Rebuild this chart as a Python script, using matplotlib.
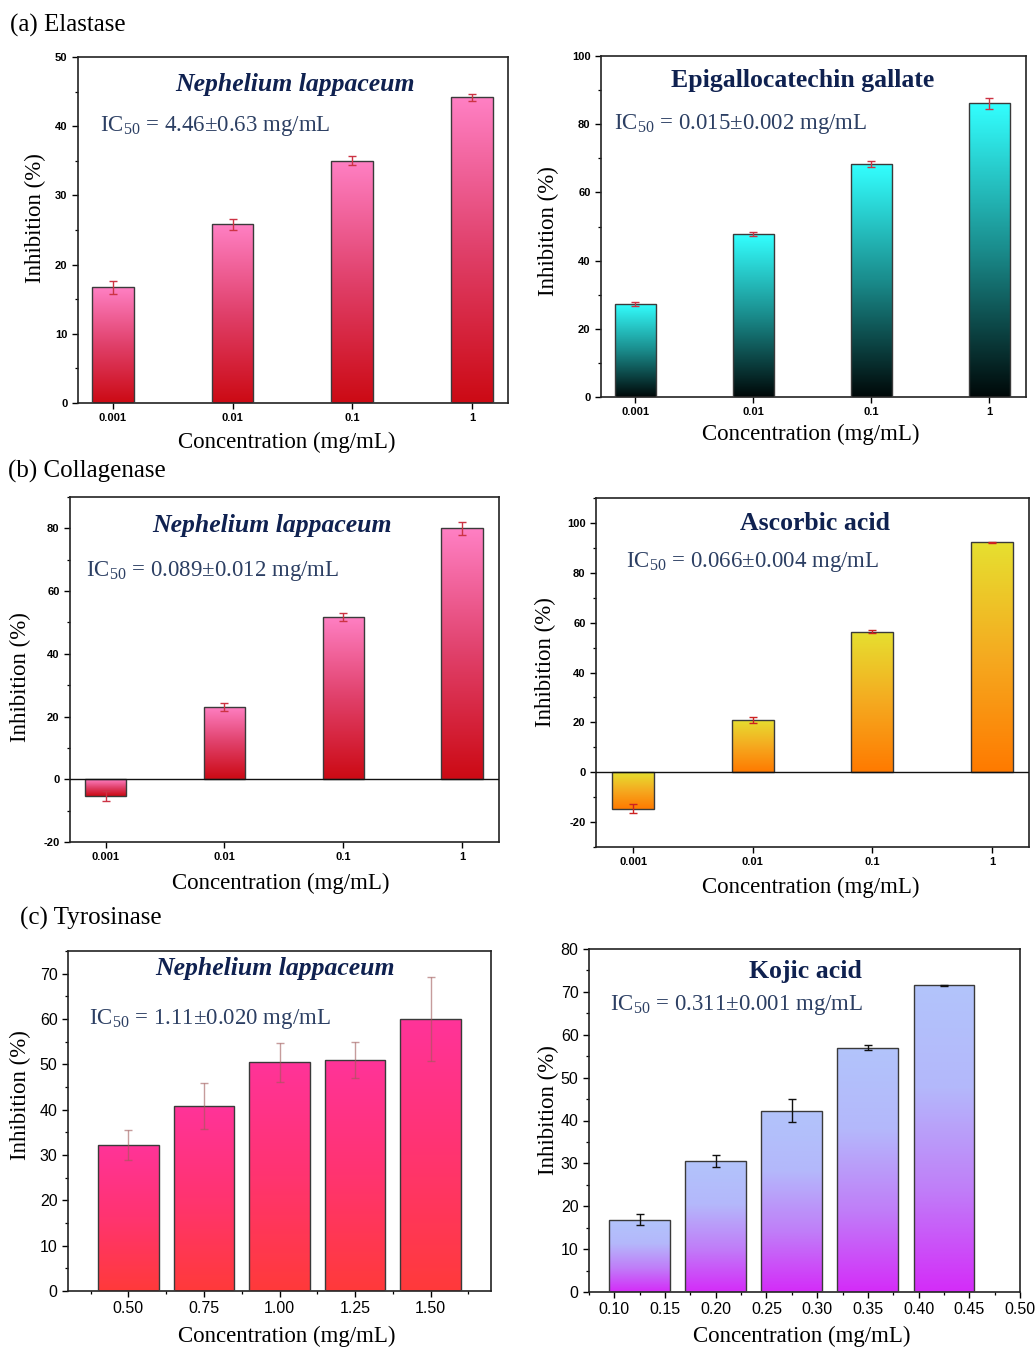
import numpy as np
import matplotlib
matplotlib.use("Agg")
import matplotlib.pyplot as plt
from matplotlib.colors import LinearSegmentedColormap
from matplotlib.ticker import MultipleLocator, FormatStrFormatter

plt.rcParams['font.family'] = ['Liberation Serif', 'DejaVu Serif']
plt.rcParams['mathtext.fontset'] = 'custom'
plt.rcParams['mathtext.rm'] = 'Liberation Serif'
plt.rcParams['axes.unicode_minus'] = False

# ---- data ----
log_conc = ['0.001', '0.01', '0.1', '1']

elastase_nl = [16.7, 25.8, 35.0, 44.2]
elastase_nl_err = [1.0, 0.75, 0.65, 0.5]
elastase_egcg = [27.3, 47.8, 68.3, 86.2]
elastase_egcg_err = [0.5, 0.6, 0.9, 1.6]

collagenase_nl = [-5.2, 23.0, 51.8, 80.0]
collagenase_nl_err = [1.6, 1.3, 1.3, 2.0]
collagenase_aa = [-14.7, 21.0, 56.4, 92.2]
collagenase_aa_err = [1.8, 1.2, 0.5, 0.3]

tyr_nl_conc = [0.50, 0.75, 1.00, 1.25, 1.50]
tyr_nl = [32.3, 40.8, 50.5, 51.0, 60.0]
tyr_nl_err = [3.3, 5.1, 4.3, 4.0, 9.3]
tyr_ka_conc = [0.125, 0.200, 0.275, 0.350, 0.425]
tyr_ka = [16.9, 30.6, 42.3, 57.0, 71.5]
tyr_ka_err = [1.3, 1.4, 2.6, 0.6, 0.2]

W, H = 1035, 1348
fig = plt.figure(figsize=(W / 100, H / 100), dpi=100)

TITLE_C = '#0f2150'
IC_C = '#2c3f63'
LABEL_FS = 16.5


def make_ax(l, t, r, b):
    return fig.add_axes([l / W, 1 - b / H, (r - l) / W, (b - t) / H])


def grad_bars(ax, x, vals, width, colors, err, ecolor, ealpha=1.0, edge='#3a3a3a'):
    cmap = LinearSegmentedColormap.from_list('g', colors)
    bars = ax.bar(x, vals, width, facecolor='none', edgecolor=edge, lw=1.0, zorder=3)
    grad = np.linspace(0, 1, 256).reshape(-1, 1)
    for p in bars.patches:
        x0, y0 = p.get_x(), p.get_y()
        w, h = p.get_width(), p.get_height()
        lo, hi = min(y0, y0 + h), max(y0, y0 + h)
        im = ax.imshow(grad, cmap=cmap, origin='lower', aspect='auto',
                       extent=[x0, x0 + w, lo, hi], zorder=2)
        im.set_clip_path(p)
    ax.errorbar(x, vals, yerr=err, fmt='none', ecolor=ecolor, alpha=ealpha,
                elinewidth=1.0, capsize=3, capthick=1.0, zorder=4)
    return bars


def style(ax, small_bold=True):
    for s in ax.spines.values():
        s.set_linewidth(1.2)
        s.set_color('#222222')
    if small_bold:
        ax.tick_params(axis='both', which='major', direction='out', length=4,
                       width=1.0, labelsize=8)
        for lab in ax.get_xticklabels() + ax.get_yticklabels():
            lab.set_fontfamily('Liberation Sans')
            lab.set_fontweight('bold')
    else:
        ax.tick_params(axis='both', which='major', direction='out', length=4,
                       width=1.0, labelsize=11.5)
        for lab in ax.get_xticklabels() + ax.get_yticklabels():
            lab.set_fontfamily('Liberation Sans')
    ax.tick_params(axis='both', which='minor', direction='out', length=2.5, width=0.9)


def labels(ax, box, ylab_xy, xlab_xy, title, title_xy, ic, ic_xy):
    l, t, r, b = box
    ax.set_ylabel('Inhibition (%)', fontsize=LABEL_FS)
    ax.set_xlabel('Concentration (mg/mL)', fontsize=LABEL_FS)
    ax.yaxis.set_label_coords((ylab_xy[0] - l) / (r - l), (b - ylab_xy[1]) / (b - t))
    ax.xaxis.set_label_coords((xlab_xy[0] - l) / (r - l), (b - xlab_xy[1]) / (b - t))
    ax.yaxis.label.set_va('center')
    ax.xaxis.label.set_va('center')
    ax.text(title_xy[0], title_xy[1], title[0], transform=ax.transAxes,
            ha='center', va='center', fontsize=18.5, fontweight='bold',
            fontstyle=title[1], color=TITLE_C)
    ax.text(ic_xy[0], ic_xy[1], ic, transform=ax.transAxes, ha='left',
            va='center', fontsize=16.5, color=IC_C)


pink_red = ['#cc0a14', '#e0406a', '#ff80c4']
pos = np.arange(len(log_conc))

# (a) Elastase -- N. lappaceum
box = (78, 57, 508, 403)
ax = make_ax(*box)
grad_bars(ax, pos, elastase_nl, 0.35, pink_red, elastase_nl_err, '#cc3344')
ax.set_xlim(-0.29, 3.30)
ax.set_ylim(0, 50)
ax.set_xticks(pos, log_conc)
ax.yaxis.set_major_locator(MultipleLocator(10))
ax.yaxis.set_minor_locator(MultipleLocator(5))
style(ax)
labels(ax, box, (35, 218), (287, 442), ('Nephelium lappaceum', 'italic'), (0.505, 0.92),
       'IC$_{50}$ = 4.46±0.63 mg/mL', (0.05, 0.80))

# (a) Elastase -- EGCG
box = (601, 56, 1026, 397)
ax = make_ax(*box)
grad_bars(ax, pos, elastase_egcg, 0.35, ['#000808', '#1a8c8c', '#33ffff'],
          elastase_egcg_err, '#cc3344')
ax.set_xlim(-0.29, 3.31)
ax.set_ylim(0, 100)
ax.set_xticks(pos, log_conc)
ax.yaxis.set_major_locator(MultipleLocator(20))
ax.yaxis.set_minor_locator(MultipleLocator(10))
style(ax)
labels(ax, box, (548, 231), (811, 434), ('Epigallocatechin gallate', 'normal'), (0.475, 0.927),
       'IC$_{50}$ = 0.015±0.002 mg/mL', (0.03, 0.80))

# (b) Collagenase -- N. lappaceum
box = (70, 497, 499, 842)
ax = make_ax(*box)
grad_bars(ax, pos, collagenase_nl, 0.35, pink_red, collagenase_nl_err, '#cc3344')
ax.axhline(0, color='#111111', lw=1.0, zorder=3)
ax.set_xlim(-0.30, 3.31)
ax.set_ylim(-20, 90)
ax.set_xticks(pos, log_conc)
ax.yaxis.set_major_locator(MultipleLocator(20))
ax.yaxis.set_minor_locator(MultipleLocator(10))
style(ax)
labels(ax, box, (20, 677), (281, 883), ('Nephelium lappaceum', 'italic'), (0.47, 0.916),
       'IC$_{50}$ = 0.089±0.012 mg/mL', (0.037, 0.785))

# (b) Collagenase -- ascorbic acid
box = (596, 498, 1029, 847)
ax = make_ax(*box)
grad_bars(ax, pos, collagenase_aa, 0.35, ['#ff7a00', '#f5aa20', '#e6e030'],
          collagenase_aa_err, '#cc2222')
ax.axhline(0, color='#111111', lw=1.0, zorder=3)
ax.set_xlim(-0.31, 3.31)
ax.set_ylim(-30, 110)
ax.set_xticks(pos, log_conc)
ax.set_yticks([-20, 0, 20, 40, 60, 80, 100])
ax.yaxis.set_minor_locator(MultipleLocator(10))
style(ax)
labels(ax, box, (545, 662), (811, 887), ('Ascorbic acid', 'normal'), (0.506, 0.928),
       'IC$_{50}$ = 0.066±0.004 mg/mL', (0.07, 0.817))

# (c) Tyrosinase -- N. lappaceum
box = (68, 951, 491, 1291)
ax = make_ax(*box)
grad_bars(ax, tyr_nl_conc, tyr_nl, 0.2, ['#ff3a3a', '#ff3470', '#ff3399'],
          tyr_nl_err, '#a05a5a', ealpha=0.6)
ax.set_xlim(0.3, 1.7)
ax.set_ylim(0, 75)
ax.set_xticks(tyr_nl_conc, [f'{c:.2f}' for c in tyr_nl_conc])
ax.xaxis.set_minor_locator(MultipleLocator(0.125))
ax.yaxis.set_major_locator(MultipleLocator(10))
ax.yaxis.set_minor_locator(MultipleLocator(5))
style(ax, small_bold=False)
labels(ax, box, (20, 1095), (287, 1336), ('Nephelium lappaceum', 'italic'), (0.49, 0.95),
       'IC$_{50}$ = 1.11±0.020 mg/mL', (0.05, 0.80))

# (c) Tyrosinase -- kojic acid
box = (589, 949, 1020, 1292)
ax = make_ax(*box)
grad_bars(ax, tyr_ka_conc, tyr_ka, 0.06, ['#d42cf8', '#c07ef8', '#b4b8fb', '#b2c4fb'],
          tyr_ka_err, '#111111')
ax.set_xlim(0.075, 0.5)
ax.set_ylim(0, 80)
ax.set_xticks(np.arange(0.10, 0.501, 0.05))
ax.xaxis.set_major_formatter(FormatStrFormatter('%.2f'))
ax.xaxis.set_minor_locator(MultipleLocator(0.025))
ax.yaxis.set_major_locator(MultipleLocator(10))
ax.yaxis.set_minor_locator(MultipleLocator(5))
style(ax, small_bold=False)
labels(ax, box, (548, 1110), (802, 1336), ('Kojic acid', 'normal'), (0.503, 0.933),
       'IC$_{50}$ = 0.311±0.001 mg/mL', (0.049, 0.837))

# panel headings
fig.text(10 / W, 1 - 25 / H, '(a) Elastase', fontsize=18, va='center', ha='left')
fig.text(8 / W, 1 - 471 / H, '(b) Collagenase', fontsize=18, va='center', ha='left')
fig.text(20 / W, 1 - 918 / H, '(c) Tyrosinase', fontsize=18, va='center', ha='left')

fig.savefig('out.png', dpi=100)
